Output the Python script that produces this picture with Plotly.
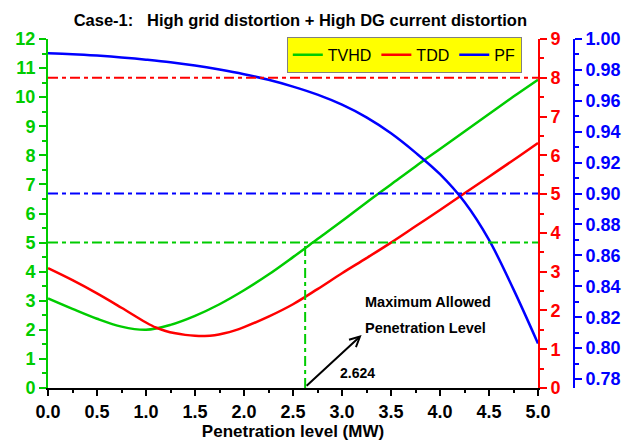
import plotly.graph_objects as go

# Penetration level (MW)
penetration = [0.00, 0.25, 0.50, 0.75, 1.00, 1.25, 1.50, 1.75, 2.00, 2.25, 2.50,
               2.75, 3.00, 3.25, 3.50, 3.75, 4.00, 4.25, 4.50, 4.75, 5.00]

# Total voltage harmonic distortion (%), left axis
tvhd = [3.08, 2.72, 2.38, 2.11, 2.00, 2.17, 2.48, 2.88, 3.36, 3.90, 4.50,
        5.12, 5.74, 6.38, 7.00, 7.62, 8.22, 8.82, 9.42, 10.02, 10.60]

# Total demand distortion (%), first right axis (sampled finer around its minimum)
tdd_penetration = [0.00, 0.25, 0.50, 0.75, 1.00, 1.10, 1.20, 1.30, 1.40, 1.50, 1.60,
                   1.70, 1.80, 1.90, 2.00, 2.25, 2.50, 2.75, 3.00, 3.25, 3.50, 3.75,
                   4.00, 4.25, 4.50, 4.75, 5.00]
tdd = [3.09, 2.78, 2.44, 2.07, 1.69, 1.56, 1.47, 1.41, 1.37, 1.345, 1.34,
       1.36, 1.41, 1.48, 1.57, 1.84, 2.16, 2.55, 2.96, 3.35, 3.75, 4.17,
       4.59, 5.02, 5.45, 5.88, 6.32]

# Power factor, second right axis
pf = [0.9907, 0.9902, 0.9893, 0.9881, 0.9866, 0.9849, 0.9828, 0.9802, 0.9772,
      0.9736, 0.9692, 0.9640, 0.9575, 0.9493, 0.9390, 0.9265, 0.9125, 0.8945,
      0.8700, 0.8380, 0.8030]

# Limits
tvhd_limit = 5.0
tdd_limit = 8.0
pf_limit = 0.90
max_penetration = 2.624

GREEN = "#00CC00"
RED = "#FF0000"
BLUE = "#0000FF"
FONT = "Liberation Sans"

fig = go.Figure()
fig.add_trace(go.Scatter(x=penetration, y=tvhd, name="TVHD", mode="lines",
                         line=dict(color=GREEN, width=2.5, shape="spline"), yaxis="y"))
fig.add_trace(go.Scatter(x=tdd_penetration, y=tdd, name="TDD", mode="lines",
                         line=dict(color=RED, width=2.5, shape="spline"), yaxis="y2"))
fig.add_trace(go.Scatter(x=penetration, y=pf, name="PF", mode="lines",
                         line=dict(color=BLUE, width=2.5, shape="spline"), yaxis="y3"))

dash = "10px,4px,4px,4px"
fig.add_shape(type="line", xref="x", yref="y", x0=0, x1=5, y0=tvhd_limit, y1=tvhd_limit,
              line=dict(color=GREEN, width=2, dash=dash))
fig.add_shape(type="line", xref="x", yref="y", x0=max_penetration, x1=max_penetration,
              y0=0, y1=tvhd_limit, line=dict(color=GREEN, width=2, dash=dash))
fig.add_shape(type="line", xref="x", yref="y2", x0=0, x1=5, y0=tdd_limit, y1=tdd_limit,
              line=dict(color=RED, width=2, dash=dash))
fig.add_shape(type="line", xref="x", yref="y3", x0=0, x1=5, y0=pf_limit, y1=pf_limit,
              line=dict(color=BLUE, width=2, dash=dash))

# Arrow from the limit line up to the caption
fig.add_annotation(x=3.20, y=1.82, ax=max_penetration, ay=0.03, xref="x", yref="y",
                   axref="x", ayref="y", text="", showarrow=True, arrowhead=5,
                   arrowsize=1, arrowwidth=2, arrowcolor="black")
fig.add_annotation(x=2.96, y=0.52, xref="x", yref="y", text=f"{max_penetration:.3f}",
                   showarrow=False, xanchor="left", yanchor="middle",
                   font=dict(family=FONT, size=14, color="black", weight="bold"))
fig.add_annotation(x=3.217, y=2.97, xref="x", yref="y", text="Maximum Allowed",
                   showarrow=False, xanchor="left", yanchor="middle",
                   font=dict(family=FONT, size=14.5, color="black", weight="bold"))
fig.add_annotation(x=3.217, y=2.05, xref="x", yref="y", text="Penetration Level",
                   showarrow=False, xanchor="left", yanchor="middle",
                   font=dict(family=FONT, size=14.5, color="black", weight="bold"))

tickfont = lambda c: dict(family=FONT, size=18, color=c, weight="bold")

fig.update_layout(
    width=639, height=443,
    margin=dict(l=48, r=65, t=39, b=55),
    paper_bgcolor="white", plot_bgcolor="white",
    showlegend=True,
    title=dict(text="Case-1:\u00a0\u00a0 High grid distortion + High DG current distortion",
               x=0.47, xanchor="center", y=0.955, yanchor="middle",
               font=dict(family=FONT, size=16.5, color="black", weight="bold")),
    legend=dict(orientation="h", x=0.454, y=1.006, xanchor="left", yanchor="top",
                bgcolor="#FFFF00", bordercolor="#808080", borderwidth=1,
                font=dict(family=FONT, size=16, color="black")),
    xaxis=dict(domain=[0, 490 / 526], range=[0, 5], dtick=0.5, tick0=0, tickformat=".1f",
               showline=True, linecolor="black", linewidth=2, ticks="outside",
               ticklen=6, tickwidth=1.5, tickcolor="black", automargin=False,
               minor=dict(dtick=0.25, ticks="outside", ticklen=3, tickwidth=1.5, tickcolor="black"),
               showgrid=False, zeroline=False, tickfont=tickfont("black"),
               title=dict(text="Penetration level (MW)", standoff=4,
                          font=dict(family=FONT, size=17, color="black", weight="bold"))),
    yaxis=dict(range=[0, 12], dtick=1, tick0=0, showline=True, linecolor=GREEN, linewidth=2,
               ticks="outside", ticklen=7, tickwidth=1.5, tickcolor=GREEN, automargin=False,
               minor=dict(dtick=0.5, ticks="outside", ticklen=4, tickwidth=1.5, tickcolor=GREEN),
               showgrid=False, zeroline=False, tickfont=tickfont(GREEN)),
    yaxis2=dict(range=[0, 9], dtick=1, tick0=0, overlaying="y", side="right", anchor="x",
                showline=True, linecolor=RED, linewidth=2, automargin=False,
                ticks="outside", ticklen=7, tickwidth=1.5, tickcolor=RED,
                minor=dict(dtick=0.5, ticks="outside", ticklen=4, tickwidth=1.5, tickcolor=RED),
                showgrid=False, zeroline=False, tickfont=tickfont(RED)),
    yaxis3=dict(range=[0.7742, 1.0], dtick=0.02, tick0=0.78, tickformat=".2f",
                overlaying="y", side="right", anchor="free", position=1.0,
                showline=True, linecolor=BLUE, linewidth=2, automargin=False,
                ticks="outside", ticklen=7, tickwidth=1.5, tickcolor=BLUE,
                minor=dict(dtick=0.01, ticks="outside", ticklen=4, tickwidth=1.5, tickcolor=BLUE),
                showgrid=False, zeroline=False, tickfont=tickfont(BLUE)),
)

fig.write_html("out.html")
